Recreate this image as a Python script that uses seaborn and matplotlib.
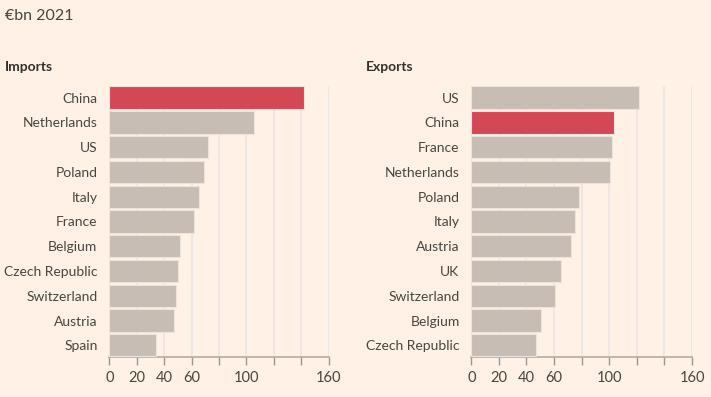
import pandas as pd
import seaborn as sns
import matplotlib.pyplot as plt

# values, €bn 2021
imp_countries = ["China", "Netherlands", "US", "Poland", "Italy", "France",
                 "Belgium", "Czech Republic", "Switzerland", "Austria", "Spain"]
imp_values = [142.2, 105.3, 72.0, 68.8, 65.4, 62.0, 51.8, 49.8, 48.9, 47.4, 34.3]

exp_countries = ["US", "China", "France", "Netherlands", "Poland", "Italy",
                 "Austria", "UK", "Switzerland", "Belgium", "Czech Republic"]
exp_values = [121.8, 103.6, 101.9, 100.4, 78.3, 75.1, 72.0, 65.2, 60.5, 50.6, 46.9]

xticks = [0, 20, 40, 60, 80, 100, 120, 140, 160]
xticklabels = ["0", "20", "40", "60", "", "100", "", "", "160"]

BG = "#fff1e5"
RED = "#d44855"
GREY = "#c8bdb5"
TXT = "#4a4541"

sns.set_theme(style="white")
plt.rcParams["font.family"] = ["Lato", "DejaVu Sans"]

fig = plt.figure(figsize=(7.11, 3.97), dpi=100)
fig.patch.set_facecolor(BG)


def draw_panel(ax, countries, values):
    df = pd.DataFrame({"country": countries, "value": values})
    colors = [RED if c == "China" else GREY for c in countries]
    sns.barplot(data=df, x="value", y="country", hue="country", palette=colors,
                legend=False, width=0.9, edgecolor="#ece3da", linewidth=0.8,
                saturation=1, ax=ax, zorder=3)
    ax.set_facecolor(BG)
    ax.set_xlim(0, 160)
    ax.set_ylim(10.47, -0.47)
    ax.set_xticks(xticks)
    ax.set_xticklabels(xticklabels)
    ax.set_xlabel("")
    ax.set_ylabel("")
    ax.grid(axis="x", color="#ebe7e6", linewidth=1.3, zorder=0)
    for s in ["top", "right", "left"]:
        ax.spines[s].set_visible(False)
    ax.spines["bottom"].set_color("#b5aca4")
    ax.spines["bottom"].set_linewidth(1.2)
    ax.tick_params(axis="x", length=6, width=1, color="#9e958e", labelsize=10.5,
                   labelcolor=TXT, pad=4, bottom=True)
    ax.tick_params(axis="y", length=0, labelsize=10, labelcolor=TXT, pad=8.5)


ax1 = fig.add_axes([0.1537, 0.1008, 0.3086, 0.6826])
draw_panel(ax1, imp_countries, imp_values)
ax2 = fig.add_axes([0.6629, 0.1008, 0.3104, 0.6826])
draw_panel(ax2, exp_countries, exp_values)

fig.text(5 / 711, 1 - 16 / 397, "€bn 2021", fontsize=11.5, color=TXT, va="center")
fig.text(5 / 711, 1 - 67 / 397, "Imports", fontsize=10, fontweight="bold",
         color="#33302e", va="center")
fig.text(366 / 711, 1 - 67 / 397, "Exports", fontsize=10, fontweight="bold",
         color="#33302e", va="center")

fig.savefig("out.png", dpi=100, facecolor=BG)
